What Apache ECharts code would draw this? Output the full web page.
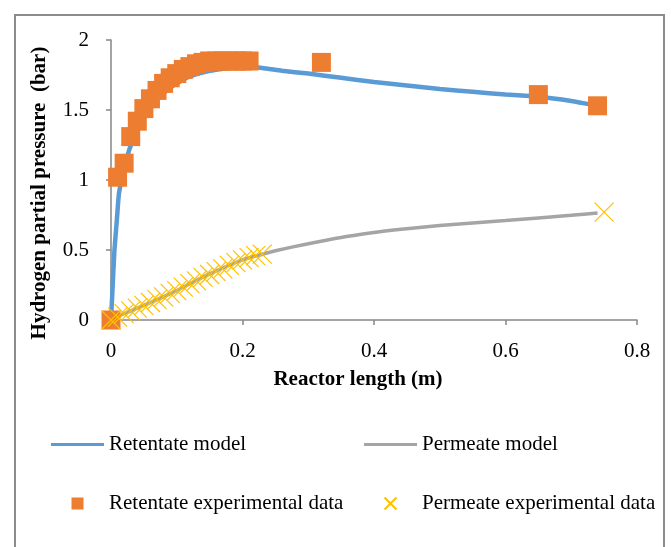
<!DOCTYPE html>
<html>
<head>
<meta charset="utf-8">
<script src="https://cdn.jsdelivr.net/npm/echarts@6/dist/echarts.min.js"></script>
<style>
html,body{margin:0;padding:0;background:#fff;}
#chart{width:671px;height:547px;}
</style>
</head>
<body>
<div id="chart"></div>
<script>
// Retentate model (smooth curve)
const retModelX = [0, 0.002, 0.005, 0.009, 0.012, 0.016, 0.02, 0.028, 0.035, 0.045, 0.055, 0.07, 0.085, 0.1, 0.12, 0.15, 0.18, 0.2, 0.23, 0.26, 0.3, 0.35, 0.4, 0.45, 0.5, 0.55, 0.6, 0.65, 0.7, 0.735];
const retModelY = [0, 0.19, 0.48, 0.72, 0.9, 1.0, 1.08, 1.22, 1.3, 1.4, 1.48, 1.57, 1.64, 1.69, 1.74, 1.78, 1.80, 1.81, 1.80, 1.78, 1.76, 1.73, 1.70, 1.675, 1.65, 1.63, 1.61, 1.595, 1.565, 1.535];
// Permeate model
const permModelX = [0, 0.02, 0.05, 0.07, 0.1, 0.12, 0.15, 0.2, 0.23, 0.25, 0.3, 0.35, 0.4, 0.43, 0.5, 0.6, 0.7, 0.74];
const permModelY = [0, 0.045, 0.105, 0.145, 0.21, 0.26, 0.33, 0.43, 0.47, 0.495, 0.545, 0.59, 0.625, 0.643, 0.675, 0.71, 0.748, 0.765];
// Retentate experimental data
const retExpX = [0, 0.01, 0.02, 0.03, 0.04, 0.05, 0.06, 0.07, 0.08, 0.09, 0.10, 0.11, 0.12, 0.13, 0.14, 0.15, 0.16, 0.17, 0.18, 0.19, 0.20, 0.21, 0.32, 0.65, 0.74];
const retExpY = [0, 1.02, 1.12, 1.31, 1.42, 1.51, 1.58, 1.64, 1.69, 1.73, 1.76, 1.79, 1.81, 1.83, 1.84, 1.85, 1.85, 1.85, 1.85, 1.85, 1.85, 1.85, 1.84, 1.61, 1.53];
// Permeate experimental data
const permExpX = [0, 0.01, 0.02, 0.03, 0.04, 0.05, 0.06, 0.07, 0.08, 0.09, 0.10, 0.11, 0.12, 0.13, 0.14, 0.15, 0.16, 0.17, 0.18, 0.19, 0.20, 0.21, 0.22, 0.23, 0.75];
const permExpY = [0, 0.02, 0.045, 0.065, 0.085, 0.105, 0.125, 0.145, 0.165, 0.19, 0.21, 0.235, 0.26, 0.28, 0.305, 0.325, 0.345, 0.365, 0.39, 0.41, 0.43, 0.445, 0.46, 0.47, 0.77];

const xTicks = {min: 0, max: 0.8, interval: 0.2};
const yTicks = {min: 0, max: 2, interval: 0.5};

const pair = (xs, ys) => xs.map((x, i) => [x, ys[i]]);
const FONT = 'Liberation Serif';
const AXIS_COLOR = '#868686';
const SQUARE = 'path://M0,0L10,0L10,10L0,10Z';
const CROSS = 'path://M0,0L10,10M10,0L0,10';
const LINE_ICON = 'path://M0,0L53,0L53,3L0,3Z';

const chart = echarts.init(document.getElementById('chart'), null, {renderer: 'canvas'});
chart.setOption({
  backgroundColor: '#fff',
  animation: false,
  graphic: [{
    type: 'rect', z: -1, silent: true,
    shape: {x: 15, y: 15, width: 649, height: 600},
    style: {fill: 'none', stroke: '#8c8c8c', lineWidth: 2}
  }],
  grid: {left: 111, right: 34, top: 40, bottom: 227, containLabel: false},
  xAxis: {
    type: 'value', min: xTicks.min, max: xTicks.max, interval: xTicks.interval,
    name: 'Reactor length (m)', nameLocation: 'middle', nameGap: 49,
    nameTextStyle: {fontFamily: FONT, fontSize: 21, fontWeight: 'bold', color: '#000', padding: [0, 32, 0, 0]},
    axisLine: {lineStyle: {color: AXIS_COLOR, width: 1.5}},
    axisTick: {show: true, length: 5, lineStyle: {color: AXIS_COLOR, width: 1.5}},
    axisLabel: {fontFamily: FONT, fontSize: 21, color: '#000', margin: 21},
    splitLine: {show: false}
  },
  yAxis: {
    type: 'value', min: yTicks.min, max: yTicks.max, interval: yTicks.interval,
    name: 'Hydrogen partial pressure  (bar)', nameLocation: 'middle', nameGap: 61, nameRotate: 90,
    nameTextStyle: {fontFamily: FONT, fontSize: 21, fontWeight: 'bold', color: '#000', padding: [0, 26, 0, 0]},
    axisLine: {show: true, lineStyle: {color: AXIS_COLOR, width: 1.5}},
    axisTick: {show: true, length: 5, lineStyle: {color: AXIS_COLOR, width: 1.5}},
    axisLabel: {fontFamily: FONT, fontSize: 21, color: '#000', margin: 22},
    splitLine: {show: false}
  },
  legend: [{
    orient: 'vertical', left: 46, top: 429, itemGap: 38, itemWidth: 53, itemHeight: 12,
    textStyle: {fontFamily: FONT, fontSize: 21, color: '#000'},
    data: [{name: 'Retentate model', icon: LINE_ICON}, 'Retentate experimental data']
  }, {
    orient: 'vertical', left: 359, top: 429, itemGap: 38, itemWidth: 53, itemHeight: 12,
    textStyle: {fontFamily: FONT, fontSize: 21, color: '#000'},
    data: [{name: 'Permeate model', icon: LINE_ICON}, 'Permeate experimental data']
  }],
  series: [{
    name: 'Retentate model', type: 'line', symbol: 'none', smooth: 0.2,
    lineStyle: {color: '#5B9BD5', width: 4.5}, itemStyle: {color: '#5B9BD5'},
    data: pair(retModelX, retModelY), z: 2
  }, {
    name: 'Permeate model', type: 'line', symbol: 'none', smooth: 0.2,
    lineStyle: {color: '#A5A5A5', width: 3.5}, itemStyle: {color: '#A5A5A5'},
    data: pair(permModelX, permModelY), z: 2
  }, {
    name: 'Retentate experimental data', type: 'scatter', symbol: SQUARE, symbolSize: 19, symbolKeepAspect: true,
    itemStyle: {color: '#ED7D31', opacity: 1},
    data: pair(retExpX, retExpY), z: 3
  }, {
    name: 'Permeate experimental data', type: 'scatter', symbol: CROSS, symbolSize: 19, symbolKeepAspect: true,
    itemStyle: {color: '#FFC000', borderColor: '#FFC000', borderWidth: 1.2, opacity: 1},
    data: pair(permExpX, permExpY), z: 4
  }]
});
</script>
</body>
</html>
